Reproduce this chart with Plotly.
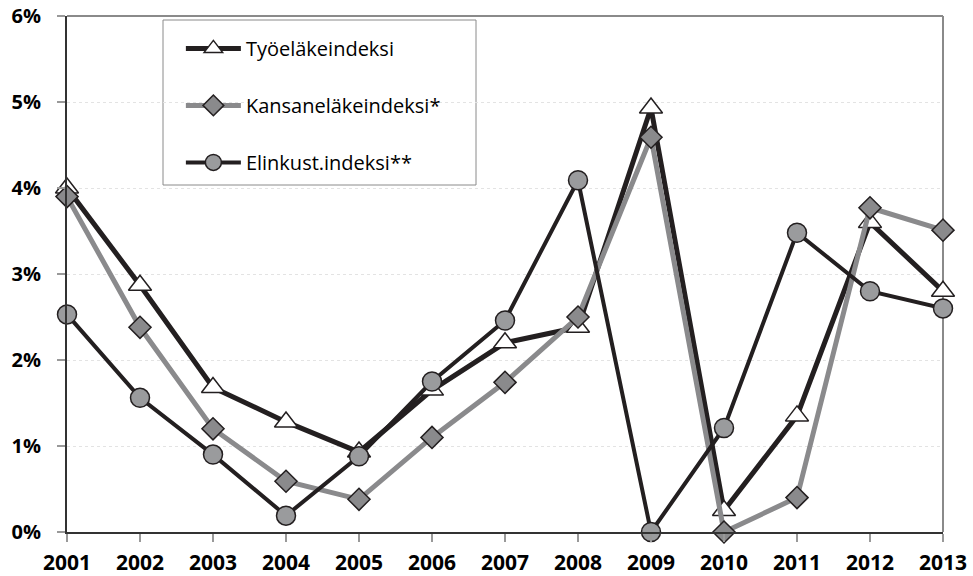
import plotly.graph_objects as go

years = [2001, 2002, 2003, 2004, 2005, 2006, 2007, 2008, 2009, 2010, 2011, 2012, 2013]
tyoelake = [4.0, 2.87, 1.68, 1.28, 0.93, 1.65, 2.2, 2.38, 4.93, 0.25, 1.35, 3.6, 2.8]
kansanelake = [3.9, 2.38, 1.2, 0.59, 0.38, 1.1, 1.74, 2.5, 4.59, 0.0, 0.4, 3.77, 3.51]
elinkust = [2.53, 1.56, 0.9, 0.19, 0.88, 1.75, 2.46, 4.09, 0.0, 1.21, 3.48, 2.8, 2.6]
ytick_vals = [0, 1, 2, 3, 4, 5, 6]
ytick_text = ["0%", "1%", "2%", "3%", "4%", "5%", "6%"]

DARK = "#231f20"
GRAY = "#8a8a8c"
MGRAY = "#9a9b9d"

fig = go.Figure()
fig.add_trace(go.Scatter(
    x=years, y=tyoelake, name="Työeläkeindeksi", mode="lines+markers",
    line=dict(color=DARK, width=5),
    marker=dict(symbol="triangle-up", size=20, color="white", line=dict(color=DARK, width=1.5)),
    cliponaxis=False, legendgroup="a"))
fig.add_trace(go.Scatter(
    x=years, y=kansanelake, name="Kansaneläkeindeksi*", mode="lines+markers",
    line=dict(color=GRAY, width=5),
    marker=dict(symbol="diamond", size=17, color=GRAY, line=dict(color=DARK, width=1.5)),
    cliponaxis=False, legendgroup="b"))
fig.add_trace(go.Scatter(
    x=years, y=elinkust, name="Elinkust.indeksi**", mode="lines+markers",
    line=dict(color=DARK, width=4),
    marker=dict(symbol="circle", size=19, color=MGRAY, line=dict(color=DARK, width=1.5)),
    cliponaxis=False, legendgroup="c"))

fig.update_layout(
    width=973, height=576,
    margin=dict(l=67, r=30, t=16, b=44, autoexpand=False),
    paper_bgcolor="white", plot_bgcolor="white",
    font=dict(family="Open Sans, Noto Sans, sans-serif", color="black"),
    showlegend=True,
    legend=dict(
        x=0.130, y=0.975, xanchor="left", yanchor="top",
        borderwidth=0, bgcolor="rgba(0,0,0,0)",
        font=dict(size=20, family="Open Sans, sans-serif", color="black"),
        itemwidth=55, tracegroupgap=28,
    ),
    xaxis=dict(
        range=[2001, 2013], tickmode="array", tickvals=years,
        ticktext=[str(y) for y in years], automargin=False,
        tickfont=dict(size=21, family="Open Sans, sans-serif", color="black", weight="bold"),
        showgrid=False, zeroline=False,
        showline=True, linecolor="#333333", linewidth=2,
        ticks="outside", ticklen=8, tickcolor="#999999", tickwidth=1.5,
        ticklabelstandoff=3,
    ),
    yaxis=dict(
        range=[0, 6], tickmode="array", tickvals=ytick_vals, ticktext=ytick_text,
        automargin=False,
        tickfont=dict(size=20, family="Open Sans, sans-serif", color="black", weight="bold"),
        showgrid=True, gridcolor="#e3e3e3", griddash="dot", gridwidth=1,
        zeroline=False,
        showline=True, linecolor="#333333", linewidth=2,
        ticks="outside", ticklen=8, tickcolor="#999999", tickwidth=1.5,
        ticklabelstandoff=12,
    ),
    shapes=[
        dict(type="line", xref="paper", yref="paper", x0=0, x1=1, y0=1, y1=1,
             line=dict(color="#8a8a8a", width=2), layer="below"),
        dict(type="line", xref="paper", yref="paper", x0=1, x1=1, y0=0, y1=1,
             line=dict(color="#8a8a8a", width=2), layer="below"),
        dict(type="rect", xref="paper", yref="paper",
             x0=(163 - 67) / 876, x1=(476 - 67) / 876,
             y0=(532 - 185) / 516, y1=(532 - 20) / 516,
             line=dict(color="#8a8a8a", width=1), fillcolor="white", layer="below"),
    ],
)

fig.write_html("out.html",
               config={"displayModeBar": False},
               post_script="document.body.style.margin='0';document.body.style.overflow='hidden';")
